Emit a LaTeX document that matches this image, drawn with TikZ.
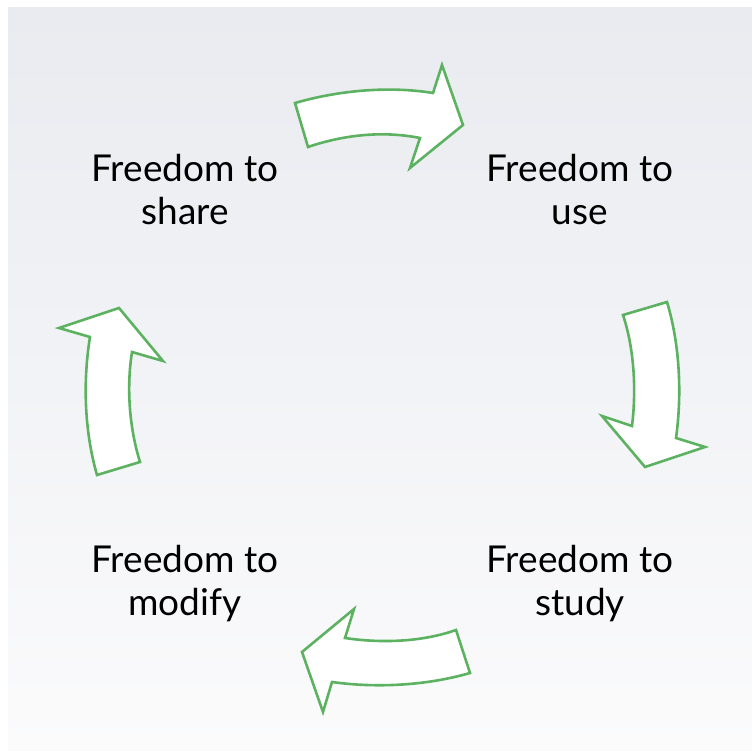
\documentclass[tikz,border=0pt]{standalone}
\usepackage{fontspec}
\setmainfont{Lato}
\usetikzlibrary{positioning}

\definecolor{arrowgreen}{RGB}{92,178,96}
\definecolor{bgtop}{RGB}{233,235,240}
\definecolor{bgbottom}{RGB}{251,251,252}

\begin{document}
\begin{tikzpicture}[x=1pt,y=-1pt,
  freedom/.style={align=center,inner sep=0pt,font=\fontsize{37}{43}\selectfont},
  bentarrow/.style={draw=arrowgreen,fill=white,line width=2.6pt,line join=miter}]
\useasboundingbox (0,0) rectangle (752,751);
\fill[white] (0,0) rectangle (752,751);
\shade[top color=bgtop,bottom color=bgbottom] (8,8) rectangle (752,751);
% the four freedoms
\node[freedom] (share) at (185,190) {Freedom to\\share};
\node[freedom] (use) at (580,190) {Freedom to\\use};
\node[freedom] (study) at (580,584) {Freedom to\\study};
\node[freedom] (modify) at (185,584) {Freedom to\\modify};
% share -> use
\draw[bentarrow] (295,103) .. controls (340,90) and (390,86) .. (433,93)
  -- (442,65) -- (463,125) -- (410,168) -- (420,138)
  .. controls (380,130) and (340,136) .. (308,147) -- cycle;
% use -> study
\draw[bentarrow] (667,302) .. controls (680,345) and (682,395) .. (676,438)
  -- (705,447) -- (645,467) -- (602,416) -- (632,426)
  .. controls (637,385) and (633,345) .. (623,315) -- cycle;
% study -> modify
\draw[bentarrow] (470,673) .. controls (425,686) and (375,688) .. (332,682)
  -- (323,712) -- (302,652) -- (354,609) -- (345,638)
  .. controls (385,644) and (425,641) .. (456,630) -- cycle;
% modify -> share
\draw[bentarrow] (97,475) .. controls (84,430) and (83,380) .. (90,337)
  -- (59,328) -- (119,308) -- (163,361) -- (132,352)
  .. controls (126,390) and (130,430) .. (140,462) -- cycle;
\end{tikzpicture}
\end{document}
